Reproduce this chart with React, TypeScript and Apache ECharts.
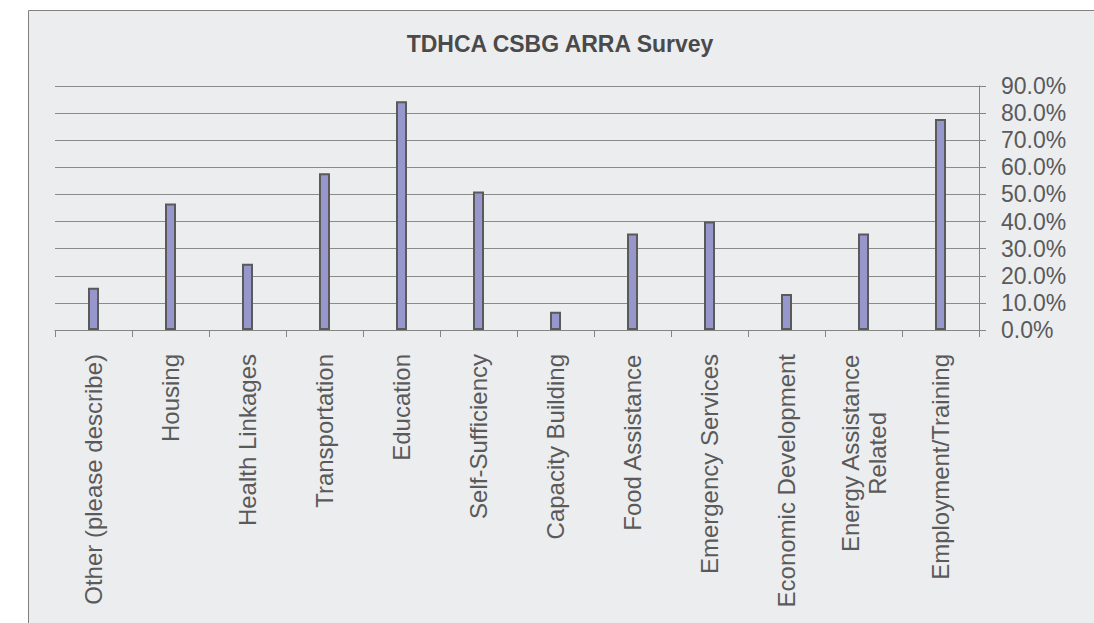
import React, { useEffect, useRef } from "react";
import * as echarts from "echarts";

const titleText = "TDHCA CSBG ARRA Survey";
const categories = [
  "Other (please describe)",
  "Housing",
  "Health Linkages",
  "Transportation",
  "Education",
  "Self-Sufficiency",
  "Capacity Building",
  "Food Assistance",
  "Emergency Services",
  "Economic Development",
  "Energy Assistance\nRelated",
  "Employment/Training",
];
const values = [15.6, 46.7, 24.4, 57.8, 84.4, 51.1, 6.7, 35.6, 40.0, 13.3, 35.6, 77.8];
const yMin = 0;
const yMax = 90;
const yStep = 10;

export default function App() {
  const ref = useRef<HTMLDivElement>(null);
  useEffect(() => {
    if (!ref.current) return;
    const chart = echarts.init(ref.current, undefined, { renderer: "svg" });
    const font = "Liberation Sans, Arial, sans-serif";
    chart.setOption({
      animation: false,
      backgroundColor: "#ffffff",
      graphic: [
        {
          type: "rect",
          z: -10,
          shape: { x: 28, y: 10, width: 1066, height: 613 },
          style: { fill: "#ECEDEF" },
          silent: true,
        },
        {
          type: "line",
          z: -9,
          shape: { x1: 28.5, y1: 10.5, x2: 1094, y2: 10.5 },
          style: { stroke: "#808080", lineWidth: 1 },
          silent: true,
        },
        {
          type: "line",
          z: -9,
          shape: { x1: 28.5, y1: 10.5, x2: 28.5, y2: 623 },
          style: { stroke: "#808080", lineWidth: 1 },
          silent: true,
        },
        {
          type: "text",
          x: 560,
          y: 44,
          style: {
            text: titleText,
            fontFamily: font,
            fontSize: 23,
            fontWeight: "bold",
            fill: "#4a4a4a",
            align: "center",
            verticalAlign: "middle",
          },
        },
      ],
      grid: { left: 55, top: 86, width: 924, height: 244, containLabel: false },
      xAxis: {
        type: "category",
        data: categories,
        boundaryGap: true,
        axisLine: { show: true, lineStyle: { color: "#858585", width: 1 } },
        axisTick: { show: true, length: 7, interval: 0, lineStyle: { color: "#858585" } },
        axisLabel: {
          interval: 0,
          rotate: 90,
          margin: 24,
          fontFamily: font,
          fontSize: 24,
          color: "#5a5a5a",
          formatter: (v: string) =>
            v
              .split("\n")
              .map((s) => `{c|${s}}`)
              .join("\n"),
          rich: {
            c: { align: "center", fontFamily: font, fontSize: 24, color: "#5a5a5a", lineHeight: 27 },
          },
        },
        splitLine: { show: false },
      },
      yAxis: {
        type: "value",
        position: "right",
        min: yMin,
        max: yMax,
        interval: yStep,
        axisLine: { show: true, lineStyle: { color: "#858585", width: 1 } },
        axisTick: { show: true, length: 7, lineStyle: { color: "#858585" } },
        axisLabel: {
          margin: 22,
          fontFamily: font,
          fontSize: 23,
          color: "#5a5a5a",
          formatter: (v: number) => `${v.toFixed(1)}%`,
        },
        splitLine: { show: true, lineStyle: { color: "#8a8a8a", width: 1 } },
      },
      series: [
        {
          type: "bar",
          data: values,
          barWidth: 11,
          itemStyle: { color: "#9797CB", borderColor: "#5a5a5a", borderWidth: 2 },
        },
      ],
    });
    return () => chart.dispose();
  }, []);
  return (
    <div
      ref={ref}
      style={{ position: "fixed", left: 0, top: 0, width: 1094, height: 623 }}
    />
  );
}
